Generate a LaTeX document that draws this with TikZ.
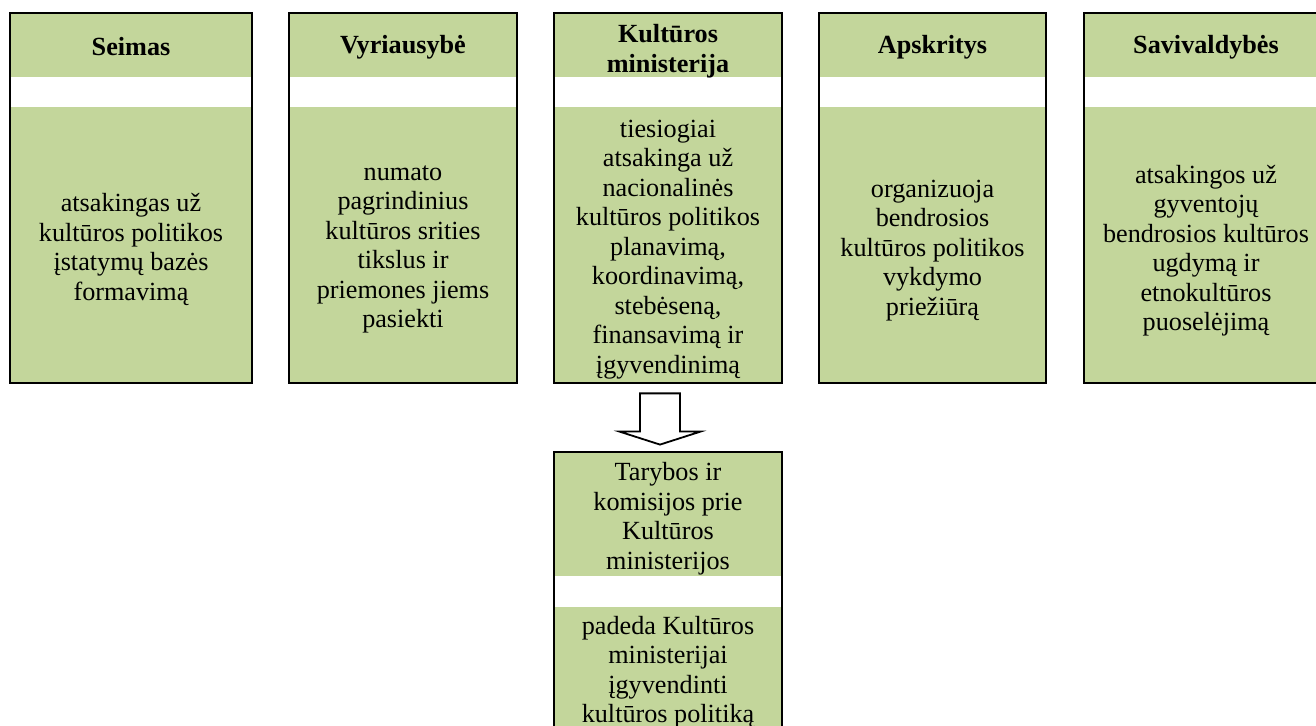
\documentclass[tikz,border=0pt]{standalone}
\usepackage{fontspec}
\setmainfont{Liberation Serif}
\usetikzlibrary{calc}
\definecolor{boxgreen}{HTML}{C3D69B}
\tikzset{
  cell/.style={fill=boxgreen, draw=none, inner sep=0pt},
  txt/.style={inner sep=0pt, align=center,
    font=\fontsize{13.1}{14.75}\selectfont},
  hdrtxt/.style={txt, font=\fontsize{13.1}{14.75}\selectfont\bfseries},
  frame/.style={draw=black, line width=1pt},
  blockarrow/.style={draw=black, fill=white, line width=0.9pt, line join=miter}
}
\begin{document}
\begin{tikzpicture}[x=0.5pt,y=-0.5pt]
\useasboundingbox (0,0) rectangle (1316,726);
% column 1
\node[cell, minimum width=121pt, minimum height=32pt] (h1) at (131,45) {};
\node[cell, minimum width=121pt, minimum height=138pt] (b1) at (131,245) {};
\draw[frame] (h1.north west) rectangle (b1.south east);
\node[hdrtxt] (t1h) at (131,47) {Seimas};
\node[txt] (t1b) at (131,249.5) {atsakingas už\\kultūros politikos\\įstatymų bazės\\formavimą};
% column 2
\node[cell, minimum width=114pt, minimum height=32pt] (h2) at (403,45) {};
\node[cell, minimum width=114pt, minimum height=138pt] (b2) at (403,245) {};
\draw[frame] (h2.north west) rectangle (b2.south east);
\node[hdrtxt] (t2h) at (403,47) {Vyriausybė};
\node[txt] (t2b) at (403,249.5) {numato\\pagrindinius\\kultūros srities\\tikslus ir\\priemones jiems\\pasiekti};
% column 3
\node[cell, minimum width=114pt, minimum height=32pt] (h3) at (668,45) {};
\node[cell, minimum width=114pt, minimum height=138pt] (b3) at (668,245) {};
\draw[frame] (h3.north west) rectangle (b3.south east);
\node[hdrtxt] (t3h) at (668,51) {Kultūros\\ministerija};
\node[txt] (t3b) at (668,249.5) {tiesiogiai\\atsakinga už\\nacionalinės\\kultūros politikos\\planavimą,\\koordinavimą,\\stebėseną,\\finansavimą ir\\įgyvendinimą};
% column 4
\node[cell, minimum width=113.5pt, minimum height=32pt] (h4) at (932.5,45) {};
\node[cell, minimum width=113.5pt, minimum height=138pt] (b4) at (932.5,245) {};
\draw[frame] (h4.north west) rectangle (b4.south east);
\node[hdrtxt] (t4h) at (932.5,47) {Apskritys};
\node[txt] (t4b) at (932.5,250.5) {organizuoja\\bendrosios\\kultūros politikos\\vykdymo\\priežiūrą};
% column 5
\node[cell, minimum width=122pt, minimum height=32pt] (h5) at (1206,45) {};
\node[cell, minimum width=122pt, minimum height=138pt] (b5) at (1206,245) {};
\draw[frame] (h5.north west) rectangle (b5.south east);
\node[hdrtxt] (t5h) at (1206,47) {Savivaldybės};
\node[txt] (t5b) at (1206,250.5) {atsakingos už\\gyventojų\\bendrosios kultūros\\ugdymą ir\\etnokultūros\\puoselėjimą};
% lower box
\node[cell, minimum width=114pt, minimum height=62pt] (h6) at (668,514) {};
\node[cell, minimum width=114pt, minimum height=62pt] (b6) at (668,669) {};
\draw[frame] (h6.north west) rectangle (b6.south east);
\node[txt] (t6h) at (668,518.5) {Tarybos ir\\komisijos prie\\Kultūros\\ministerijos};
\node[txt] (t6b) at (668,672) {padeda Kultūros\\ministerijai\\įgyvendinti\\kultūros politiką};
% block arrow
\coordinate (as) at ($(b3.south)+(-8,10)$);
\coordinate (at) at ($(h6.north)+(-8,-7)$);
\draw[blockarrow] ($(as)+(-20,0)$) -- ($(as)+(20,0)$) -- ($(at)+(20,-13)$)
  -- ($(at)+(40.5,-13)$) -- (at) -- ($(at)+(-40.5,-13)$) -- ($(at)+(-20,-13)$) -- cycle;
\end{tikzpicture}
\end{document}
